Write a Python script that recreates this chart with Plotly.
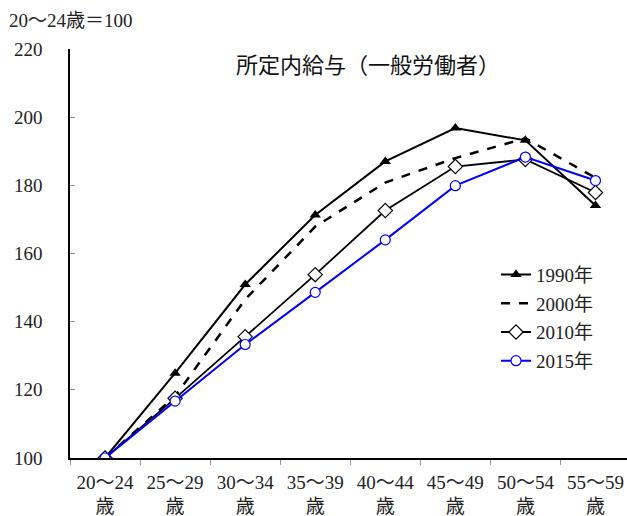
import plotly.graph_objects as go

categories = ["20～24<br>歳", "25～29<br>歳", "30～34<br>歳", "35～39<br>歳",
              "40～44<br>歳", "45～49<br>歳", "50～54<br>歳", "55～59<br>歳"]
y1990 = [100, 124.9, 150.9, 171.3, 187.0, 196.8, 193.2, 174.1]
y2000 = [100, 118.1, 146.5, 167.9, 180.8, 188.0, 193.8, 182.2]
y2010 = [100, 117.5, 135.6, 153.8, 172.6, 185.5, 187.6, 177.9]
y2015 = [100, 116.7, 133.3, 148.6, 164.0, 179.9, 188.3, 181.4]
y_ticks = [100, 120, 140, 160, 180, 200, 220]

SERIF = "Liberation Serif, Noto Sans CJK JP, serif"
SANS = "Noto Sans CJK JP, sans-serif"

W, H = 627, 516
L, R, T, B = 70, 0, 49, 516 - 458.5
pw = W - L - R
ph = H - T - B

def px_x(x):
    return (x - L) / pw

def px_y(y):
    return (H - B - y) / ph

fig = go.Figure()
fig.add_trace(go.Scatter(x=categories, y=y1990, name="1990年", mode="lines+markers",
                         legendgroup="a",
                         line=dict(color="black", width=2),
                         marker=dict(symbol="triangle-up", size=10, color="black")))
fig.add_trace(go.Scatter(x=categories, y=y2000, name="2000年", mode="lines",
                         legendgroup="b",
                         line=dict(color="black", width=2.5, dash="dash")))
fig.add_trace(go.Scatter(x=categories, y=y2010, name="2010年", mode="lines+markers",
                         legendgroup="c",
                         line=dict(color="black", width=1.8),
                         marker=dict(symbol="diamond", size=11, color="white",
                                     line=dict(color="black", width=1.2))))
fig.add_trace(go.Scatter(x=categories, y=y2015, name="2015年", mode="lines+markers",
                         legendgroup="d",
                         line=dict(color="#0000ff", width=2),
                         marker=dict(symbol="circle", size=10, color="white",
                                     line=dict(color="#0000ff", width=1.2))))

fig.update_layout(
    width=W, height=H,
    margin=dict(l=L, r=R, t=T, b=B, autoexpand=False),
    paper_bgcolor="white", plot_bgcolor="white",
    font=dict(family=SERIF, size=19, color="#222"),
    showlegend=True,
    legend=dict(x=px_x(496), y=px_y(256), xanchor="left", yanchor="top",
                font=dict(family=SERIF, size=19, color="#222"),
                bgcolor="rgba(0,0,0,0)", tracegroupgap=1),
    annotations=[
        dict(text="所定内給与（一般労働者）", x=px_x(368), y=px_y(63),
             xref="paper", yref="paper", xanchor="center", yanchor="middle",
             showarrow=False, font=dict(family=SANS, size=22, color="#111")),
        dict(text="20～24歳＝100", x=px_x(7), y=px_y(20),
             xref="paper", yref="paper", xanchor="left", yanchor="middle",
             showarrow=False, font=dict(family=SERIF, size=19, color="#222")),
    ],
)

fig.update_xaxes(type="category", range=[-0.5, 7.45], tickson="boundaries",
                 ticks="outside", ticklen=5, tickcolor="#999", tickwidth=1,
                 showline=True, linecolor="black", linewidth=1.5,
                 showgrid=False, zeroline=False, ticklabelstandoff=6,
                 tickfont=dict(family=SERIF, size=19, color="#222"))
fig.update_yaxes(range=[100, 220], tickvals=y_ticks, ticks="inside", ticklen=5,
                 tickcolor="#999", tickwidth=1,
                 showline=True, linecolor="black", linewidth=1.5,
                 showgrid=False, zeroline=False, ticklabelstandoff=22,
                 tickfont=dict(family=SERIF, size=19, color="#222"))

fig.write_html(
    "out.html",
    config={"displayModeBar": False},
    post_script="document.body.style.margin='0';document.body.style.overflow='hidden';",
)
